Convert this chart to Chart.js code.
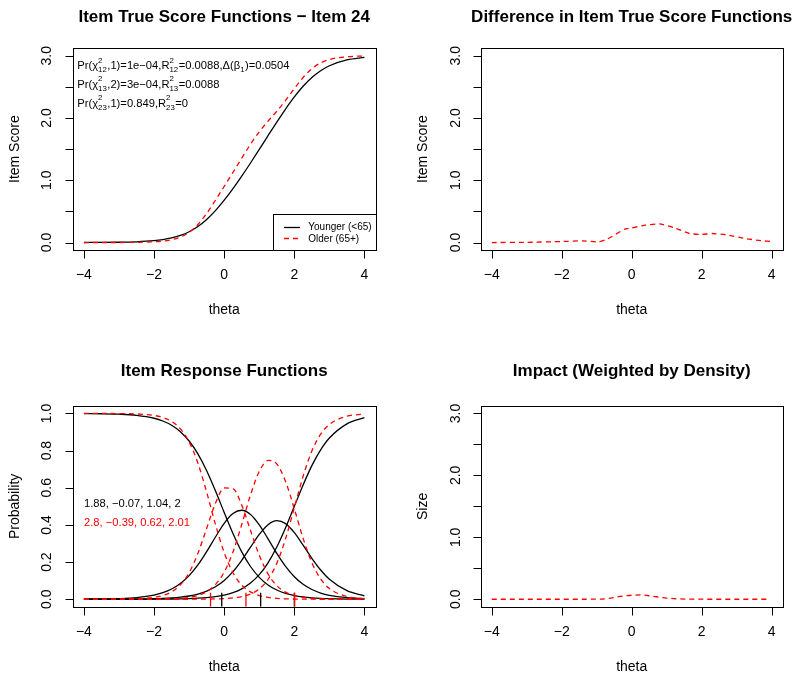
<!DOCTYPE html>
<html><head><meta charset="utf-8">
<script src="https://cdn.jsdelivr.net/npm/chart.js@4.4.1/dist/chart.umd.min.js"></script>
<style>
html,body{margin:0;padding:0;background:#fff;}
#wrap{position:relative;width:800px;height:680px;background:#fff;}
canvas{position:absolute;left:0;top:0;}
</style></head><body>
<div id="wrap">
<canvas id="c1" width="800" height="680"></canvas>
<canvas id="c2" width="800" height="680"></canvas>
<canvas id="c3" width="800" height="680"></canvas>
<canvas id="c4" width="800" height="680"></canvas>
</div>
<script>
// ---------------- data ----------------
const theta = [-4,-3.5,-3,-2.5,-2,-1.75,-1.5,-1.25,-1,-0.75,-0.5,-0.25,0,0.25,0.5,0.75,1,1.25,1.5,1.75,2,2.25,2.5,2.75,3,3.5,4];

const tsYounger = [0.0007,0.0018,0.0046,0.0118,0.0297,0.0469,0.0734,0.1136,0.1730,0.2570,0.3698,0.5119,0.6797,0.8666,1.0671,1.2778,1.4956,1.7165,1.9349,2.1446,2.3387,2.5096,2.6508,2.7601,2.8400,2.9329,2.9729];
const tsOlder   = [0.0000,0.0002,0.0007,0.0029,0.0116,0.0230,0.0455,0.0880,0.1642,0.2889,0.4662,0.6790,0.9022,1.1263,1.3547,1.5791,1.7793,1.9501,2.1100,2.2826,2.4712,2.6510,2.7922,2.8854,2.9398,2.9845,2.9961];

const diffTheta  = [-4,-3,-2,-1.4,-0.95,-0.7,-0.2,0,0.4,0.8,1.2,1.65,2.0,2.3,2.7,3.3,3.7,4.0];
const diffValues = [0.0,0.003,0.016,0.027,0.010,0.055,0.215,0.235,0.280,0.300,0.240,0.145,0.130,0.145,0.125,0.060,0.030,0.016];

const impactTheta  = [-4,-2,-1,-0.7,-0.35,0,0.25,0.6,1.0,1.3,2,3,3.9];
const impactValues = [0,0,0.002,0.010,0.045,0.065,0.070,0.048,0.020,0.008,0.001,0,0];

const irfYounger0 = [0.9994,0.9984,0.9960,0.9897,0.9741,0.9592,0.9363,0.9019,0.8517,0.7821,0.6916,0.5837,0.4671,0.3540,0.2551,0.1763,0.1180,0.0772,0.0497,0.0316,0.0200,0.0126,0.0079,0.0050,0.0031,0.0012,0.0005];
const irfYounger1 = [0.0005,0.0014,0.0035,0.0090,0.0226,0.0355,0.0553,0.0848,0.1272,0.1845,0.2560,0.3350,0.4089,0.4613,0.4789,0.4567,0.4008,0.3254,0.2466,0.1768,0.1213,0.0806,0.0525,0.0336,0.0214,0.0085,0.0033];
const irfYounger2 = [0.0001,0.0002,0.0004,0.0011,0.0028,0.0044,0.0070,0.0111,0.0176,0.0278,0.0434,0.0670,0.1013,0.1488,0.2098,0.2800,0.3488,0.4012,0.4228,0.4070,0.3587,0.2914,0.2205,0.1576,0.1079,0.0465,0.0189];
const irfYounger3 = [0.0000,0.0000,0.0001,0.0002,0.0005,0.0009,0.0014,0.0022,0.0035,0.0057,0.0090,0.0143,0.0228,0.0359,0.0562,0.0871,0.1324,0.1963,0.2809,0.3846,0.5000,0.6154,0.7191,0.8038,0.8676,0.9438,0.9773];

const irfOlder0 = [1.0000,0.9998,0.9993,0.9973,0.9891,0.9783,0.9572,0.9174,0.8466,0.7326,0.5764,0.4032,0.2512,0.1428,0.0764,0.0395,0.0200,0.0100,0.0050,0.0025,0.0012,0.0006,0.0003,0.0002,0.0001,0.0000,0.0000];
const irfOlder1 = [0.0000,0.0002,0.0006,0.0026,0.0102,0.0204,0.0401,0.0773,0.1428,0.2463,0.3820,0.5163,0.5990,0.5953,0.5068,0.3705,0.2365,0.1362,0.0734,0.0381,0.0193,0.0097,0.0048,0.0024,0.0012,0.0003,0.0001];
const irfOlder2 = [0.0000,0.0000,0.0000,0.0002,0.0006,0.0013,0.0026,0.0052,0.0104,0.0207,0.0408,0.0787,0.1462,0.2547,0.4024,0.5615,0.6876,0.7473,0.7282,0.6338,0.4865,0.3278,0.1972,0.1093,0.0576,0.0149,0.0037];
const irfOlder3 = [0.0000,0.0000,0.0000,0.0000,0.0000,0.0000,0.0001,0.0001,0.0002,0.0004,0.0009,0.0018,0.0036,0.0072,0.0144,0.0285,0.0558,0.1064,0.1934,0.3256,0.4930,0.6619,0.7977,0.8882,0.9411,0.9848,0.9962];

const paramsYounger = [1.88, -0.07, 1.04, 2];
const paramsOlder   = [2.8, -0.39, 0.62, 2.01];

const xTickValues   = [-4,-2,0,2,4];
const scoreTicks    = [0,0.5,1,1.5,2,2.5,3];
const scoreLabels   = [0,1,2,3];
const probTicks     = [0,0.2,0.4,0.6,0.8,1];
const legendLabels  = ['Younger (<65)','Older (65+)'];
const titles = ['Item True Score Functions \u2212 Item 24','Difference in Item True Score Functions','Item Response Functions','Impact (Weighted by Density)'];
// statistic lines: plain text pieces and {sup, sub} script groups
const statLines = [
  ['Pr(\u03C7',{sup:'2',sub:'12'},',1)=1e\u221204,R',{sup:'2',sub:'12'},'=0.0088,\u0394(\u03B2',{sub:'1'},')=0.0504'],
  ['Pr(\u03C7',{sup:'2',sub:'13'},',2)=3e\u221204,R',{sup:'2',sub:'13'},'=0.0088'],
  ['Pr(\u03C7',{sup:'2',sub:'23'},',1)=0.849,R',{sup:'2',sub:'23'},'=0']
];

// ---------------- styling helpers ----------------
const FONT = "'Liberation Sans', Arial, Helvetica, sans-serif";
const RED = '#FF0000';
const DASH = [5,4];
const minus = s => String(s).replace('-', '\u2212');

function series(xs, ys, color, dashed, extra){
  return Object.assign({
    data: xs.map((x,i)=>({x:x, y:ys[i]})),
    borderColor: color, borderWidth: 1.3,
    borderDash: dashed ? DASH : [],
    pointRadius: 0, fill: false, cubicInterpolationMode: 'monotone'
  }, extra || {});
}
function rug(vals, color, y0, y1){
  return vals.slice(1).map(v => ({
    data: [{x:v, y:y0},{x:v, y:y1}], borderColor: color, borderWidth: 1.3,
    pointRadius: 0, fill:false, tension:0
  }));
}

function drawMath(ctx, x, y, parts, size){
  let cx = x;
  ctx.textAlign = 'left'; ctx.textBaseline = 'alphabetic';
  for (const p of parts){
    if (typeof p === 'string'){
      ctx.font = size + 'px ' + FONT;
      ctx.fillText(p, cx, y);
      cx += ctx.measureText(p).width;
    } else {
      const s = size*0.7;
      ctx.font = s + 'px ' + FONT;
      let w = 0;
      if (p.sup){ ctx.fillText(p.sup, cx, y - size*0.58); w = Math.max(w, ctx.measureText(p.sup).width); }
      if (p.sub){ ctx.fillText(p.sub, cx, y + size*0.28); w = Math.max(w, ctx.measureText(p.sub).width); }
      cx += w + 0.5;
    }
  }
}

function framePlugin(p){
  return {
    id: 'rframe',
    afterDraw(chart){
      const ctx = chart.ctx, a = chart.chartArea, xs = chart.scales.x, ys = chart.scales.y;
      ctx.save();
      ctx.strokeStyle = '#000'; ctx.fillStyle = '#000'; ctx.lineWidth = 1;
      const L = Math.round(a.left)+0.5, R = Math.round(a.right)+0.5, T = Math.round(a.top)+0.5, B = Math.round(a.bottom)+0.5;
      ctx.strokeRect(L, T, R-L, B-T);
      // x axis ticks
      ctx.beginPath();
      xTickValues.forEach(v => { const px = Math.round(xs.getPixelForValue(v))+0.5; ctx.moveTo(px, B); ctx.lineTo(px, B+8); });
      ctx.stroke();
      ctx.font = '14px ' + FONT; ctx.textAlign = 'center'; ctx.textBaseline = 'middle';
      xTickValues.forEach(v => ctx.fillText(minus(v), xs.getPixelForValue(v), a.bottom + 25.5));
      ctx.fillText('theta', (a.left+a.right)/2, a.bottom + 60);
      // y axis ticks
      ctx.beginPath();
      p.yTicks.forEach(v => { const py = Math.round(ys.getPixelForValue(v))+0.5; ctx.moveTo(L-8, py); ctx.lineTo(L, py); });
      ctx.stroke();
      p.yLabels.forEach(v => {
        ctx.save(); ctx.translate(a.left - p.yLabOff, ys.getPixelForValue(v)); ctx.rotate(-Math.PI/2);
        ctx.font = '14px ' + FONT; ctx.fillText(v.toFixed(1), 0, 0); ctx.restore();
      });
      ctx.save(); ctx.translate(a.left - 57.5, (a.top+a.bottom)/2); ctx.rotate(-Math.PI/2);
      ctx.font = '14px ' + FONT; ctx.fillText(p.yTitle, 0, 0); ctx.restore();
      // title
      ctx.font = 'bold 17px ' + FONT;
      ctx.fillText(p.title, (a.left+a.right)/2, p.titleY);
      if (p.extra) p.extra(ctx, a);
      ctx.restore();
    }
  };
}

function makeChart(p){
  return new Chart(document.getElementById(p.id), {
    type: 'line',
    data: { datasets: p.datasets },
    options: {
      responsive: false, animation: false, devicePixelRatio: 1, events: [],
      layout: { padding: { left: p.box[0], top: p.box[1], right: 800 - p.box[2], bottom: 680 - p.box[3] } },
      plugins: { legend: {display:false}, tooltip: {enabled:false}, title: {display:false} },
      scales: {
        x: { type:'linear', min:-4.32, max:4.32, display:false },
        y: { type:'linear', min:p.ymin, max:p.ymax, display:false }
      }
    },
    plugins: [framePlugin(p)]
  });
}

// ---------------- panels ----------------
makeChart({
  id:'c1', box:[72.7,48.3,375.7,250], ymin:-0.12, ymax:3.12,
  yTicks: scoreTicks, yLabels: scoreLabels, yLabOff: 26, yTitle:'Item Score',
  title: titles[0], titleY: 17,
  datasets: [ series(theta, tsOlder, RED, true), series(theta, tsYounger, '#000', false) ],
  extra: (ctx, a) => {
    ctx.fillStyle = '#000';
    statLines.forEach((parts, i) => drawMath(ctx, 77.3, 69.3 + i*18.6, parts, 11.2));
    // legend
    ctx.lineWidth = 1;
    ctx.strokeRect(273.5, 214.5, Math.round(a.right)+0.5-273.5, Math.round(a.bottom)+0.5-214.5);
    ctx.lineWidth = 1.3;
    ctx.beginPath(); ctx.strokeStyle = '#000'; ctx.moveTo(284, 227.5); ctx.lineTo(300, 227.5); ctx.stroke();
    ctx.beginPath(); ctx.strokeStyle = RED; ctx.setLineDash(DASH); ctx.moveTo(284, 238.5); ctx.lineTo(300, 238.5); ctx.stroke();
    ctx.setLineDash([]);
    ctx.font = '10px ' + FONT; ctx.textAlign = 'left'; ctx.textBaseline = 'middle'; ctx.fillStyle = '#000';
    ctx.fillText(legendLabels[0], 308.3, 227.5);
    ctx.fillText(legendLabels[1], 308.3, 238.8);
  }
});

makeChart({
  id:'c2', box:[480.6,48.3,782.8,250], ymin:-0.12, ymax:3.12,
  yTicks: scoreTicks, yLabels: scoreLabels, yLabOff: 24.5, yTitle:'Item Score',
  title: titles[1], titleY: 17,
  datasets: [ series(diffTheta, diffValues, RED, true, {cubicInterpolationMode:'default', tension:0.15}) ]
});

makeChart({
  id:'c3', box:[72.7,406,375.7,606.7], ymin:-0.04, ymax:1.04,
  yTicks: probTicks, yLabels: probTicks, yLabOff: 26, yTitle:'Probability',
  title: titles[2], titleY: 371.5,
  datasets: [
    ...rug(paramsOlder, RED, -0.04, 0.035),
    ...rug(paramsYounger, '#000', -0.04, 0.035),
    series(theta, irfOlder0, RED, true), series(theta, irfOlder1, RED, true),
    series(theta, irfOlder2, RED, true), series(theta, irfOlder3, RED, true),
    series(theta, irfYounger0, '#000', false), series(theta, irfYounger1, '#000', false),
    series(theta, irfYounger2, '#000', false), series(theta, irfYounger3, '#000', false)
  ],
  extra: (ctx, a) => {
    ctx.font = '11.2px ' + FONT; ctx.textAlign = 'left'; ctx.textBaseline = 'middle';
    ctx.fillStyle = '#000'; ctx.fillText(paramsYounger.map(minus).join(', '), 84, 503.5);
    ctx.fillStyle = RED;   ctx.fillText(paramsOlder.map(minus).join(', '), 84, 523.3);
  }
});

makeChart({
  id:'c4', box:[480.6,406,782.8,606.7], ymin:-0.12, ymax:3.12,
  yTicks: scoreTicks, yLabels: scoreLabels, yLabOff: 24.5, yTitle:'Size',
  title: titles[3], titleY: 371.5,
  datasets: [ series(impactTheta, impactValues, RED, true) ]
});
</script>
</body></html>
